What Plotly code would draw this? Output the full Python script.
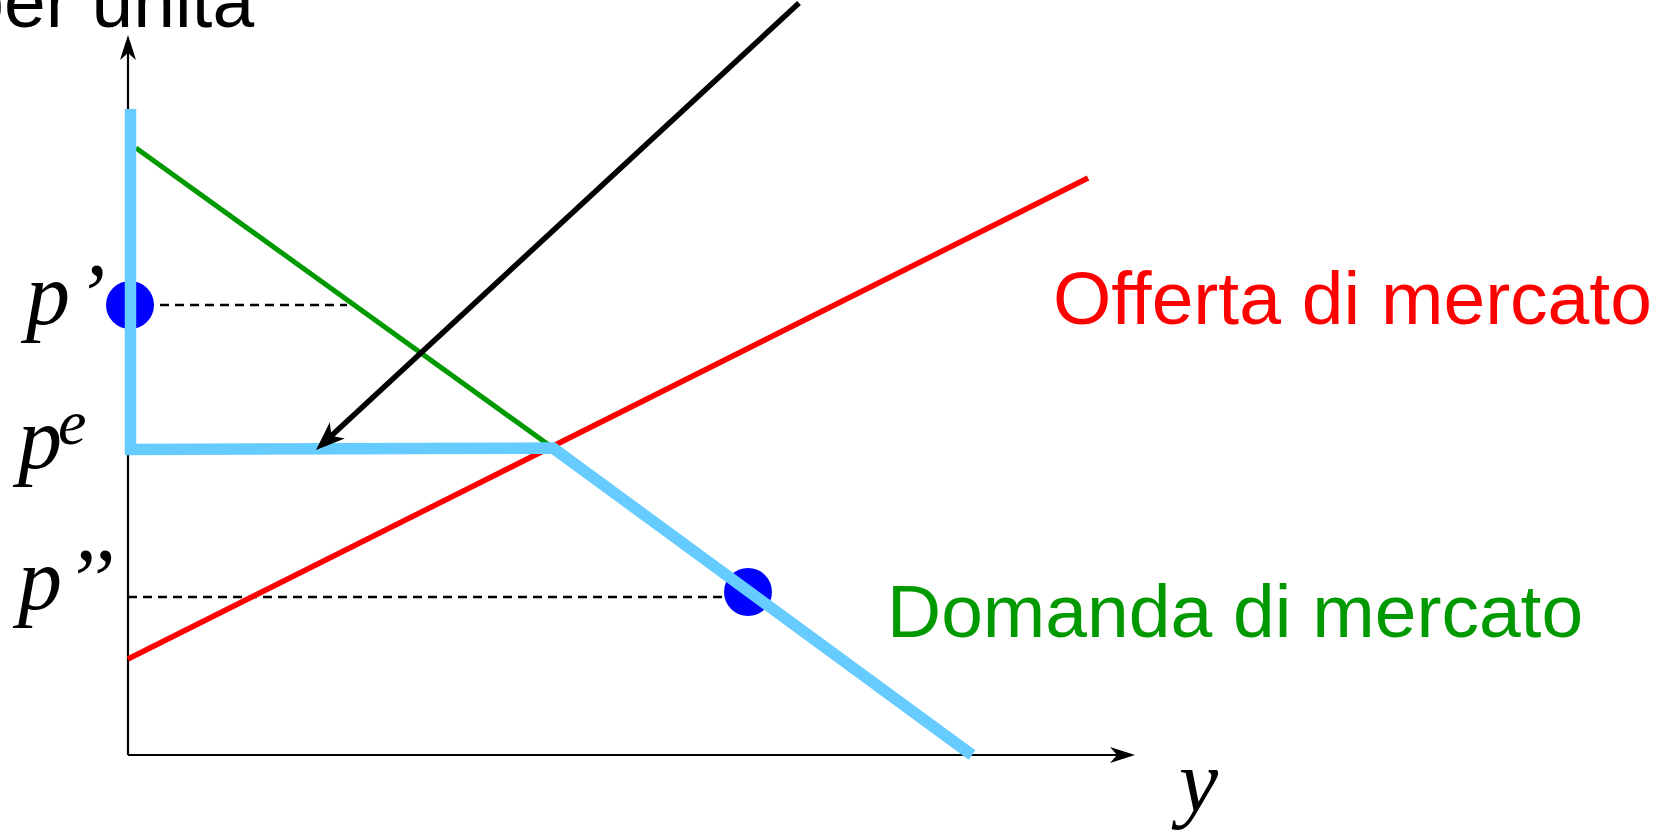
import math
import plotly.graph_objects as go

# ---------------- data (economic units: quantity y on x-axis, price on vertical axis) -------------
axis_x_end = 10.07          # length of quantity axis
axis_p_end = 7.20           # length of price axis

supply_q = [0.00, 9.60]     # Offerta di mercato
supply_p = [0.96, 5.77]

demand_q = [0.08, 4.25]     # Domanda di mercato
demand_p = [6.07, 3.07]

floor_q = [0.025, 0.025, 4.25, 8.44]   # demand faced with price floor (light blue)
floor_p = [6.46, 3.055, 3.07, 0.00]

arrow_from = (6.71, 7.52)
arrow_to = (1.88, 3.05)

p_prime = 4.50
p_second = 1.58
p_equil = 3.06

dot_q = [0.02, 6.20]
dot_p = [4.50, 1.63]

dash1_q = [0.02, 2.19]
dash2_q = [0.00, 6.00]

# ---------------- figure -------------
W, H = 1670, 834
X0, Y0, S = 128, 755, 100.0   # pixel of origin and pixels per unit
xr = [(0 - X0) / S, (W - X0) / S]
yr = [(Y0 - H) / S, (Y0 - 0) / S]


def stealth(tip, tail, length, half, notch):
    dx, dy = tip[0] - tail[0], tip[1] - tail[1]
    n = math.hypot(dx, dy)
    dx, dy = dx / n, dy / n
    px, py = -dy, dx
    bx, by = tip[0] - length * dx, tip[1] - length * dy
    mx, my = tip[0] - (length - notch) * dx, tip[1] - (length - notch) * dy
    xs = [tip[0], bx + half * px, mx, bx - half * px, tip[0]]
    ys = [tip[1], by + half * py, my, by - half * py, tip[1]]
    return xs, ys, (mx, my)


fig = go.Figure()


def line(xs, ys, color, width, dash=None):
    fig.add_trace(go.Scatter(x=xs, y=ys, mode="lines",
                             line=dict(color=color, width=width, dash=dash),
                             hoverinfo="skip", showlegend=False))


def head(xs, ys, color):
    fig.add_trace(go.Scatter(x=xs, y=ys, mode="lines", fill="toself",
                             fillcolor=color, line=dict(color=color, width=0),
                             hoverinfo="skip", showlegend=False))


# axes with arrows
hx, hy, mid = stealth((axis_x_end, 0.0), (0.0, 0.0), 0.25, 0.08, 0.07)
line([0, mid[0]], [0, 0], "black", 2.2)
head(hx, hy, "black")
hx, hy, mid = stealth((0.0, axis_p_end), (0.0, 0.0), 0.25, 0.08, 0.07)
line([0, 0], [0, mid[1]], "black", 2.2)
head(hx, hy, "black")

# dashed guides
line(dash1_q, [p_prime, p_prime], "black", 2.4, "9px,6px")
line(dash2_q, [p_second, p_second], "black", 2.4, "9px,6px")

# supply and demand
line(supply_q, supply_p, "#FF0000", 5.5)
line(demand_q, demand_p, "#009900", 5)

# dots
fig.add_trace(go.Scatter(x=dot_q, y=dot_p, mode="markers",
                         marker=dict(size=48, color="#0000FF", line=dict(width=0)),
                         hoverinfo="skip", showlegend=False))

# light blue kinked demand
line(floor_q, floor_p, "#66CCFF", 11.5)

# black arrow
hx, hy, mid = stealth(arrow_to, arrow_from, 0.29, 0.11, 0.08)
line([arrow_from[0], mid[0]], [arrow_from[1], mid[1]], "black", 5.5)
head(hx, hy, "black")

serif = "Liberation Serif"
sans = "Liberation Sans"


def label(x, y, text, size, color="black", family=sans, xanchor="left", italic=False):
    fig.add_annotation(x=x, y=y, xref="x", yref="y", text=text, showarrow=False,
                       xanchor=xanchor, yanchor="middle",
                       font=dict(family=family, size=size, color=color,
                                 style="italic" if italic else "normal"))


# price labels
label(-1.10, 4.61, "p", 88, family=serif, italic=True)
label(-0.38, 4.61, "’", 88, family=serif, italic=True, xanchor="center")
label(-1.18, 3.17, "p", 88, family=serif, italic=True)
label(-0.72, 3.33, "e", 64, family=serif, italic=True)
label(-1.18, 1.76, "p", 88, family=serif, italic=True)
label(-0.39, 1.76, "’’", 88, family=serif, italic=True, xanchor="center")
label(10.67, -0.26, "y", 88, family=serif, italic=True, xanchor="center")

label(9.23, 4.57, "Offerta di mercato", 75, color="#FF0000")
label(7.57, 1.44, "Domanda di mercato", 75, color="#009900")
fig.add_annotation(x=1.28, y=7.54, xref="x", yref="y", text="Prezzo per unità", showarrow=False,
                   xanchor="right", yanchor="middle",
                   font=dict(family=sans, size=75, color="black"))

fig.update_layout(width=W, height=H, margin=dict(l=0, r=0, t=0, b=0),
                  paper_bgcolor="white", plot_bgcolor="white",
                  xaxis=dict(range=xr, visible=False, fixedrange=True),
                  yaxis=dict(range=yr, visible=False, fixedrange=True))

fig.write_html("out.html", config={"displayModeBar": False},
               post_script="document.body.style.margin='0';document.body.style.overflow='hidden';")
